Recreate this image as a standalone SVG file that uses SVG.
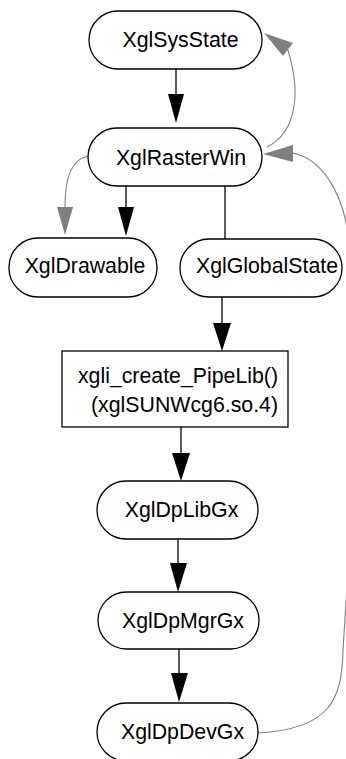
<svg xmlns="http://www.w3.org/2000/svg" width="346" height="759" viewBox="0 0 346 759">
<style>
.node rect{fill:#fff;stroke:#000;stroke-width:1.3}
text{font-family:"Liberation Sans",Arial,sans-serif;font-size:21.3px;fill:#000;text-anchor:middle}
.e{stroke:#000;stroke-width:1.3;fill:none}
.g{stroke:#808080;stroke-width:1.1;fill:none}
.ah{fill:#000}
.gh{fill:#808080}
</style>
<rect width="346" height="759" fill="#fff"/>
<g id="connectors">
<line class="e" x1="176" y1="69" x2="176" y2="95"/>
<polygon class="ah" points="168,94 184,94 176,123"/>
<line class="e" x1="126" y1="186" x2="126" y2="208"/>
<polygon class="ah" points="118,207 134,207 126,236"/>
<path class="g" d="M88,156 C72,160 65,175 65,208"/>
<polygon class="gh" points="57,207 73,207 65,235"/>
<line class="e" x1="225" y1="186" x2="225" y2="239"/>
<line class="e" x1="222" y1="297" x2="222" y2="324"/>
<polygon class="ah" points="213,323 231,323 222,351"/>
<line class="e" x1="181" y1="427" x2="181" y2="454"/>
<polygon class="ah" points="172,453 190,453 181,481"/>
<line class="e" x1="178" y1="539" x2="178" y2="564"/>
<polygon class="ah" points="170,563 187,563 178,592"/>
<line class="e" x1="179" y1="649" x2="179" y2="674"/>
<polygon class="ah" points="171,673 188,673 179,702"/>
<path class="g" d="M267,147 C293,134 303,100 288,50"/>
<polygon class="gh" points="264,33 293,43 283,56"/>
<path class="g" d="M258,733 C330,729 342,700 343,650 L348,570 L350,260 C349,200 325,160 293,153"/>
<polygon class="gh" points="263,154 293,145 293,162"/>
</g>
<g id="XglSysState" class="node"><rect x="89" y="11" width="173" height="58" rx="29"/><text x="180.5" y="47">XglSysState</text></g>
<g id="XglRasterWin" class="node"><rect x="88" y="128" width="174" height="58" rx="29"/><text x="181" y="165">XglRasterWin</text></g>
<g id="XglDrawable" class="node"><rect x="9" y="238" width="148" height="59" rx="29"/><text x="85" y="273">XglDrawable</text></g>
<g id="XglGlobalState" class="node"><rect x="180" y="239" width="162" height="58" rx="29"/><text x="267" y="273">XglGlobalState</text></g>
<g id="xgli_create_PipeLib" class="node"><rect x="62" y="351" width="226" height="76"/><text x="278" y="383" style="text-anchor:end">xgli_create_PipeLib()</text><text x="278" y="412" style="text-anchor:end">(xglSUNWcg6.so.4)</text></g>
<g id="XglDpLibGx" class="node"><rect x="97" y="481" width="161" height="58" rx="29"/><text x="181.5" y="517">XglDpLibGx</text></g>
<g id="XglDpMgrGx" class="node"><rect x="98" y="592" width="161" height="57" rx="28.5"/><text x="183" y="628">XglDpMgrGx</text></g>
<g id="XglDpDevGx" class="node"><rect x="97" y="703" width="161" height="58" rx="29"/><text x="182.5" y="739">XglDpDevGx</text></g>
</svg>
